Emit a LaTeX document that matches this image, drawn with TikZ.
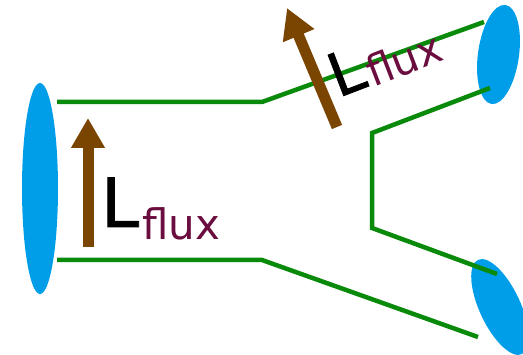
\documentclass[tikz,border=0pt]{standalone}
\usepackage{fontspec}
\setmainfont{DejaVu Sans}
\newfontfamily\Lfont[FakeBold=1.2]{DejaVu Sans}
\usetikzlibrary{shapes.geometric,arrows.meta}
\definecolor{pipegreen}{HTML}{0A8A0A}
\definecolor{capblue}{HTML}{009EE8}
\definecolor{fluxbrown}{HTML}{7A4500}
\definecolor{fluxred}{HTML}{6B0D3E}
\tikzset{
  pipe/.style={draw=pipegreen, line width=4.5pt, line join=miter},
  endcap/.style={ellipse, fill=capblue, inner sep=0pt},
  fluxarrow/.style={draw=fluxbrown, line width=11pt,
    -{Triangle[width=32pt,length=30pt]}},
  fluxlabel/.style={anchor=base west, inner sep=0pt}
}
% L with a lowered "flux" subscript: #1 size of L, #2 size of flux, #3 drop
\newcommand{\Lflux}[3]{{\Lfont\fontsize{#1}{#1}\selectfont L}\kern3pt\raisebox{-#3}{\fontsize{#2}{#2}\selectfont\color{fluxred}flux}}
\begin{document}
\begin{tikzpicture}[x=1pt,y=-1pt]
  \useasboundingbox (0,0) rectangle (523,355);
  % end caps of the tube
  \node[endcap, minimum width=36pt, minimum height=211pt] (inlet) at (40,188.5) {};
  \node[endcap, minimum width=41pt, minimum height=100pt, rotate=-8] (outA) at (498.5,54.5) {};
  \node[endcap, minimum width=41pt, minimum height=104pt, rotate=25] (outB) at (500,307) {};
  % wall corners
  \coordinate (t0) at (57,102);
  \coordinate (t1) at (262,102);
  \coordinate (t2) at (484,22);
  \coordinate (m0) at (490,88);
  \coordinate (m1) at (372,133);
  \coordinate (m2) at (372,228);
  \coordinate (m3) at (497,274);
  \coordinate (b0) at (57,260);
  \coordinate (b1) at (262,260);
  \coordinate (b2) at (478,337);
  % tube walls
  \draw[pipe] (t0) -- (t1) -- (t2);
  \draw[pipe] (m0) -- (m1) -- (m2) -- (m3);
  \draw[pipe] (b0) -- (b1) -- (b2);
  % flux arrows
  \coordinate (a0) at (88,247);
  \coordinate (a1) at (88,118);
  \draw[fluxarrow] (a0) -- (a1);
  \coordinate (c0) at (337,127);
  \coordinate (c1) at (287,8);
  \draw[fluxarrow] (c0) -- (c1);
  % labels
  \node[fluxlabel] (lab1) at (101,227) {\Lflux{68}{42}{13pt}};
  \node[fluxlabel, rotate=21] (lab2) at (338,98) {\Lflux{60}{42}{3pt}};
\end{tikzpicture}
\end{document}
